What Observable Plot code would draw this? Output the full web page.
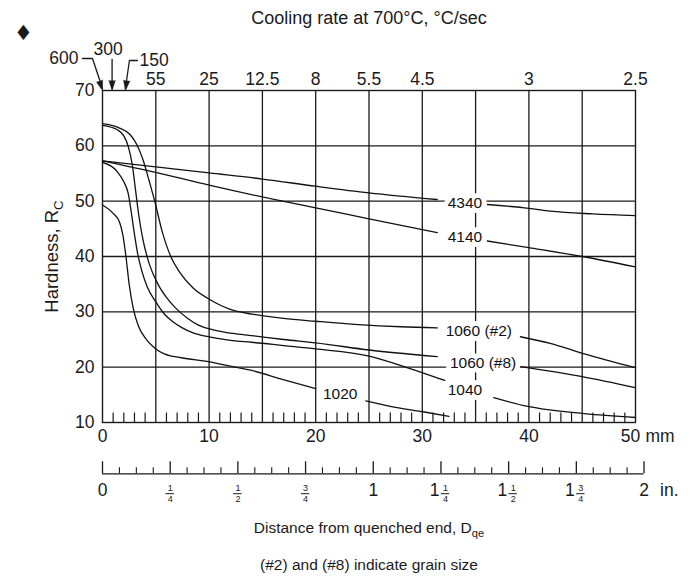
<!DOCTYPE html>
<html>
<head>
<meta charset="utf-8">
<script src="https://cdn.jsdelivr.net/npm/d3@7"></script>
<script src="https://cdn.jsdelivr.net/npm/@observablehq/plot@0.6"></script>
<style>
  body { margin: 0; background: #fff; }
  #chart svg { display: block; }
</style>
</head>
<body>
<div id="chart"></div>
<script>
// ---------- data (distance in mm, hardness in HRC; null = gap at the curve's label) ----------
const steel4340 = [[0,57.3],[5,56.2],[10,55.1],[15,54.0],[20,52.7],[25,51.5],[31.4,50.3],[34,null],[36.1,49.4],[40,48.7],[42,48.2],[46,47.7],[50,47.4]];
const steel4140 = [[0,57.3],[5,55.2],[10,52.9],[16.9,50.0],[20,48.8],[25,46.8],[31.4,44.3],[34,null],[36.1,42.8],[40,41.6],[45,40.0],[50,38.1]];
const steel1060g2 = [[0,64.0],[1.5,63.3],[2.6,62.0],[3.2,60.3],[3.8,57.5],[4.4,53.5],[4.9,50.0],[5.6,44.5],[6.4,40.0],[7.3,37.0],[8.5,34.3],[9.9,32.4],[12.2,30.3],[14,29.6],[17,28.8],[20,28.3],[24,27.7],[28,27.3],[31.4,27.1],[35.3,null],[39.2,25.5],[42,24.3],[45.2,22.4],[50,19.9]];
const steel1060g8 = [[0,63.7],[1.4,62.9],[2.0,61.8],[2.4,60.0],[2.8,56.5],[3.1,52.0],[3.4,47.5],[3.8,43.0],[4.3,39.2],[5.2,35.0],[6.0,32.6],[6.8,30.8],[8.0,28.8],[9.0,27.6],[10.5,26.7],[12.2,26.1],[14,25.7],[17,25.0],[20,24.4],[25,23.1],[31.4,21.9],[35.7,null],[39.2,20.1],[45,18.3],[50,16.3]];
const steel1040 = [[0,57.0],[1.4,55.3],[2.0,53.5],[2.4,51.5],[2.7,48.0],[3.0,44.0],[3.3,40.5],[3.7,37.3],[4.2,34.5],[5.0,31.8],[5.8,29.6],[6.6,28.2],[7.4,27.2],[8.5,26.2],[9.9,25.5],[12.2,24.8],[14,24.5],[17,23.9],[20,23.3],[25,22.0],[28,20.3],[32.1,17.6],[34,null],[36.7,14.5],[39.9,12.9],[45.2,11.6],[50,10.9]];
const steel1020 = [[0,49.3],[1.0,47.8],[1.6,46.2],[1.9,44.0],[2.2,40.0],[2.5,35.0],[2.9,30.5],[3.4,27.3],[4.2,24.8],[5.0,23.3],[5.8,22.4],[7.4,21.7],[9.9,21.0],[12.2,20.1],[14,19.4],[16.7,17.9],[20,16.1],[22.3,null],[24.7,13.9],[27,12.9],[30.2,11.9],[32.5,11.1]];

const curveNames = ["4340","4140","1060 (#2)","1060 (#8)","1040","1020"];
const curveData = [steel4340, steel4140, steel1060g2, steel1060g8, steel1040, steel1020];
const labelMm  = [34.0, 34.0, 35.3, 35.7, 34.0, 22.3];
const labelHrc = [49.6, 43.6, 26.5, 20.7, 15.8, 15.2];

const hardnessTicks = [10,20,30,40,50,60,70];
const mmTicks = [0,10,20,30,40,50];
const coolingRates = ["55","25","12.5","8","5.5","4.5","3","2.5"];
const coolingMm = [5,10,15,20,25,30,40,50];
const fastRates = ["600","300","150"];
const fastMm = [0, 0.9, 2.15];

const inchValues = [0,0.25,0.5,0.75,1,1.25,1.5,1.75,2];
const inchWhole = ["0","","","","1","1","1","1","2"];
const inchNum   = ["","1","1","3","","1","1","3",""];
const inchDen   = ["","4","2","4","","4","2","4",""];

// ---------- layout ----------
const W = 691, H = 576, ML = 102, MR = 56, MT = 90, MB = 154;
const pxPerMm = (W - ML - MR) / 50;
const pxPerH = (H - MT - MB) / 60;
const below = px => 10 - px / pxPerH;       // px below the frame bottom -> data y
const font = "Liberation Sans, Arial, Helvetica, sans-serif";
const ink = "#1a1a1a";

// tables
const curveRows = curveData.flatMap((pts, i) => pts.map(([mm, h]) => ({steel: curveNames[i], mm, hrc: h})));
const labelRows = curveNames.map((n, i) => ({text: n, mm: labelMm[i], hrc: labelHrc[i]}));
const minorMm = d3.range(1, 50).filter(d => d % 5 !== 0);
const gridMm = [5,10,15,20,25,30,35,40,45];
const gridH = [20,30,40,50,60];
const inch16 = d3.range(0, 33).map(i => i / 16);
const inchMajor = inch16.filter((d, i) => i % 4 === 0);
const inchMinor = inch16.filter((d, i) => i % 4 !== 0);
const inchRows = inchValues.map((v, i) => ({mm: v * 25.4, whole: inchWhole[i], num: inchNum[i], den: inchDen[i]}));
const wholeOnly = inchRows.filter(d => d.whole && !d.num);
const mixed = inchRows.filter(d => d.whole && d.num);
const pureFrac = inchRows.filter(d => !d.whole && d.num);
const fracShift = 4.5; // px: fraction part of a mixed number sits right of the tick

// leaders for the 600 / 300 / 150 arrows (pixel offsets from the arrow tip)
const leaderOffsets = [
  [[-20,-32],[-10,-32],[0,-2]],
  [[0,-31],[0,-2]],
  [[12,-30],[4,-30],[0,-2]]
];
const leaderRows = fastRates.flatMap((r, i) => leaderOffsets[i].map(([dx, dy]) => ({rate: r, x: fastMm[i] + dx / pxPerMm, y: 70 - dy / pxPerH})));
const headAngles = [162.6, 180, 187.6];
const headRows = fastRates.map((r, i) => ({rate: r, mm: fastMm[i], angle: headAngles[i]}));
const fastLabelRows = [
  {text: "600", mm: fastMm[0], dx: -24, dy: -32, anchor: "end"},
  {text: "300", mm: fastMm[1], dx: -4, dy: -41, anchor: "middle"},
  {text: "150", mm: fastMm[2], dx: 14, dy: -30, anchor: "start"}
];

function fractionMarks(rows, shift) {
  return [
    Plot.text(rows, {x: "mm", y: 10, text: "num", dx: shift, dy: 66, lineAnchor: "middle", fontSize: 9, fill: ink}),
    Plot.text(rows, {x: "mm", y: 10, text: "den", dx: shift, dy: 76.5, lineAnchor: "middle", fontSize: 9, fill: ink}),
    Plot.ruleY(rows, {y: below(71.2), x1: d => d.mm + (shift - 4.2) / pxPerMm, x2: d => d.mm + (shift + 4.2) / pxPerMm, stroke: ink, strokeWidth: 1})
  ];
}

const chart = Plot.plot({
  width: W, height: H,
  marginLeft: ML, marginRight: MR, marginTop: MT, marginBottom: MB,
  x: {domain: [0, 50], axis: null},
  y: {domain: [10, 70], axis: null},
  style: {fontFamily: font, background: "#fff", color: ink},
  marks: [
    // grid and frame
    Plot.ruleX(gridMm, {x: d => d, stroke: ink, strokeWidth: 1.3}),
    Plot.ruleY(gridH, {y: d => d, stroke: ink, strokeWidth: 1.3}),
    Plot.frame({stroke: ink, strokeWidth: 1.4}),
    // small mm ticks along the bottom, inside the frame
    Plot.ruleX(minorMm, {x: d => d, y1: 10, y2: 10 + 9.5 / pxPerH, stroke: ink, strokeWidth: 1.2}),
    // curves
    Plot.line(curveRows, {x: "mm", y: "hrc", z: "steel", curve: "monotone-x", stroke: "#111", strokeWidth: 1.3}),
    // curve labels with white halo
    Plot.text(labelRows, {x: "mm", y: "hrc", text: "text", fontSize: 15.5, fill: "#111",
      stroke: "white", strokeWidth: 10, strokeLinejoin: "round", paintOrder: "stroke", lineAnchor: "middle"}),
    // y axis labels
    Plot.text(hardnessTicks, {x: 0, y: d => d, text: d => String(d), dx: -8, textAnchor: "end", lineAnchor: "middle", fontSize: 17.5, fill: ink}),
    // mm axis labels
    Plot.text(mmTicks.filter(d => d < 50), {x: d => d, y: 10, text: d => String(d), dy: 14, lineAnchor: "middle", fontSize: 17.5, fill: ink}),
    Plot.text(mmTicks.filter(d => d === 50), {x: d => d, y: 10, text: d => String(d), dx: -5, dy: 14, lineAnchor: "middle", fontSize: 17.5, fill: ink}),
    Plot.text(["mm"], {x: 50, y: 10, text: d => d, dx: 10, dy: 14, textAnchor: "start", lineAnchor: "middle", fontSize: 17.5, fill: ink}),
    // cooling rate labels on top
    Plot.text(coolingRates, {x: (d, i) => coolingMm[i], y: 70, text: d => d, dy: -11, lineAnchor: "middle", fontSize: 17.5, fill: ink}),
    // 600/300/150 arrows
    Plot.line(leaderRows, {x: "x", y: "y", z: "rate", stroke: ink, strokeWidth: 1.3}),
    Plot.vector(headRows, {x: "mm", y: 70, rotate: "angle", length: 10, r: 3.2, shape: "spike", anchor: "end", fill: ink, stroke: ink, strokeWidth: 0.5}),
    ...fastLabelRows.map(d => Plot.text([d], {x: "mm", y: 70, text: "text", dx: d.dx, dy: d.dy, textAnchor: d.anchor, lineAnchor: "middle", fontSize: 17.5, fill: ink})),
    // inch axis
    Plot.ruleY([0], {y: below(51.3), x1: 0, x2: 2 * 25.4, stroke: ink, strokeWidth: 1.3}),
    Plot.ruleX(inchMajor, {x: d => d * 25.4, y1: below(51.3), y2: below(39.3), stroke: ink, strokeWidth: 1.3}),
    Plot.ruleX(inchMinor, {x: d => d * 25.4, y1: below(51.3), y2: below(45.3), stroke: ink, strokeWidth: 1.1}),
    Plot.text(wholeOnly, {x: "mm", y: 10, text: "whole", dy: 68, lineAnchor: "middle", fontSize: 17.5, fill: ink}),
    Plot.text(mixed, {x: "mm", y: 10, text: "whole", dx: -1.5, dy: 68, textAnchor: "end", lineAnchor: "middle", fontSize: 17.5, fill: ink}),
    ...fractionMarks(pureFrac, 0),
    ...fractionMarks(mixed, fracShift),
    Plot.text(["in."], {x: 2 * 25.4, y: 10, text: d => d, dx: 16, dy: 68, textAnchor: "start", lineAnchor: "middle", fontSize: 17.5, fill: ink}),
    // titles
    Plot.text(["Cooling rate at 700°C, °C/sec"], {frameAnchor: "top", text: d => d, dy: -72, lineAnchor: "middle", fontSize: 18, fill: ink}),
    Plot.text(["\u2666"], {frameAnchor: "top-left", text: d => d, dx: -79, dy: -57, textAnchor: "middle", lineAnchor: "middle", fontSize: 21, fontFamily: "DejaVu Sans", fill: ink}),
    Plot.text(["Hardness, R_C"], {frameAnchor: "left", text: d => d, dx: -50, rotate: -90, textAnchor: "middle", lineAnchor: "middle", fontSize: 18.5, fill: ink}),
    Plot.text(["Distance from quenched end, D_qe"], {frameAnchor: "bottom", text: d => d, dy: 106, lineAnchor: "middle", fontSize: 15.5, fill: ink}),
    Plot.text(["(#2) and (#8) indicate grain size"], {frameAnchor: "bottom", text: d => d, dy: 143, lineAnchor: "middle", fontSize: 15.5, fill: ink})
  ]
});

// subscripts: text after "_" becomes a lowered, smaller tspan
chart.querySelectorAll("text").forEach(t => {
  const s = t.textContent;
  const i = s.indexOf("_");
  if (i >= 0 && t.children.length === 0) {
    t.textContent = s.slice(0, i);
    const ts = document.createElementNS("http://www.w3.org/2000/svg", "tspan");
    ts.setAttribute("dy", "0.35em");
    ts.setAttribute("font-size", "0.72em");
    ts.textContent = s.slice(i + 1);
    t.appendChild(ts);
  }
});

document.getElementById("chart").appendChild(chart);
</script>
</body>
</html>
